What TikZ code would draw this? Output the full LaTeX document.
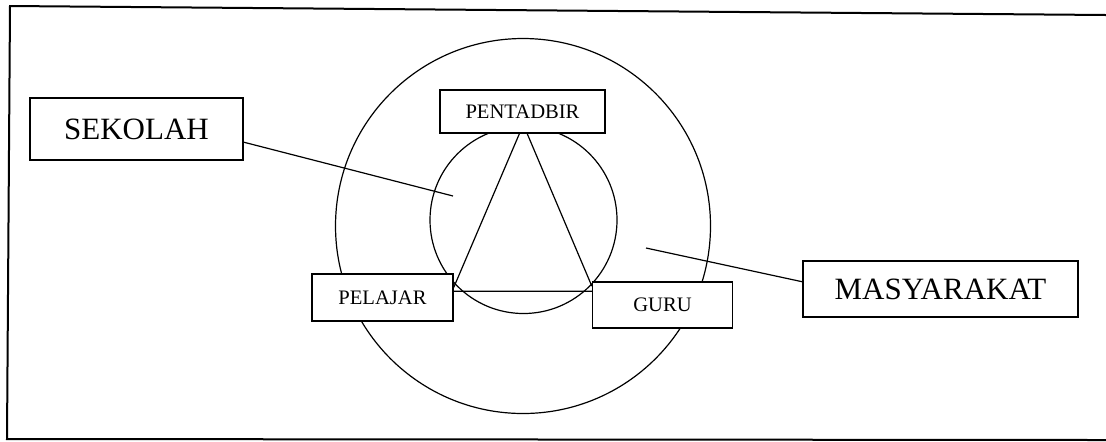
\documentclass[tikz,border=0pt]{standalone}
\usepackage{fontspec}
\setmainfont{Liberation Serif}
\usetikzlibrary{positioning}
\tikzset{
  box/.style={draw, line width=0.7pt, fill=white, inner sep=0pt},
  big/.style={box, font=\fontsize{15.5}{18}\selectfont},
  sml/.style={box, font=\fontsize{10.3}{12}\selectfont},
  ring/.style={line width=0.6pt},
  lnk/.style={line width=0.6pt},
  frm/.style={line width=1pt}
}
\begin{document}
\begin{tikzpicture}[x=0.5pt, y=-0.5pt]
	\useasboundingbox (0,0) rectangle (1106,441);
	% frame
	\draw[frm] (1106,15) -- (10,6) -- (7,439) -- (1106,440);
	% rings
	\draw[ring] (523,226) circle[radius=93.75pt];
	\draw[ring] (523.5,220) circle[radius=46.75pt];
	% boxes
	\node[sml, minimum width=82.5pt, minimum height=21.5pt] (pent) at (522.5,111.5) {PENTADBIR};
	\node[sml, minimum width=70.5pt, minimum height=23.5pt] (pel) at (382.5,297.5) {PELAJAR};
	\node[sml, minimum width=70pt, minimum height=23pt] (guru) at (662.5,305) {GURU};
	\node[big, minimum width=106.5pt, minimum height=31pt] (sek) at (136.5,129) {SEKOLAH};
	\node[big, minimum width=137.5pt, minimum height=28pt] (mas) at (940.5,289) {MASYARAKAT};
	% triangle
	\draw[lnk] (pent.262) -- (pel.8);
	\draw[lnk] (pent.282) -- (guru.165);
	\draw[lnk] (pel.5) -- (guru.169);
	% pointers
	\coordinate (sekpt) at (453,196);
	\coordinate (maspt) at (646,248);
	\draw[lnk] (sek.-7.5) -- (sekpt);
	\draw[lnk] (maspt) -- (mas.177.5);
\end{tikzpicture}
\end{document}
